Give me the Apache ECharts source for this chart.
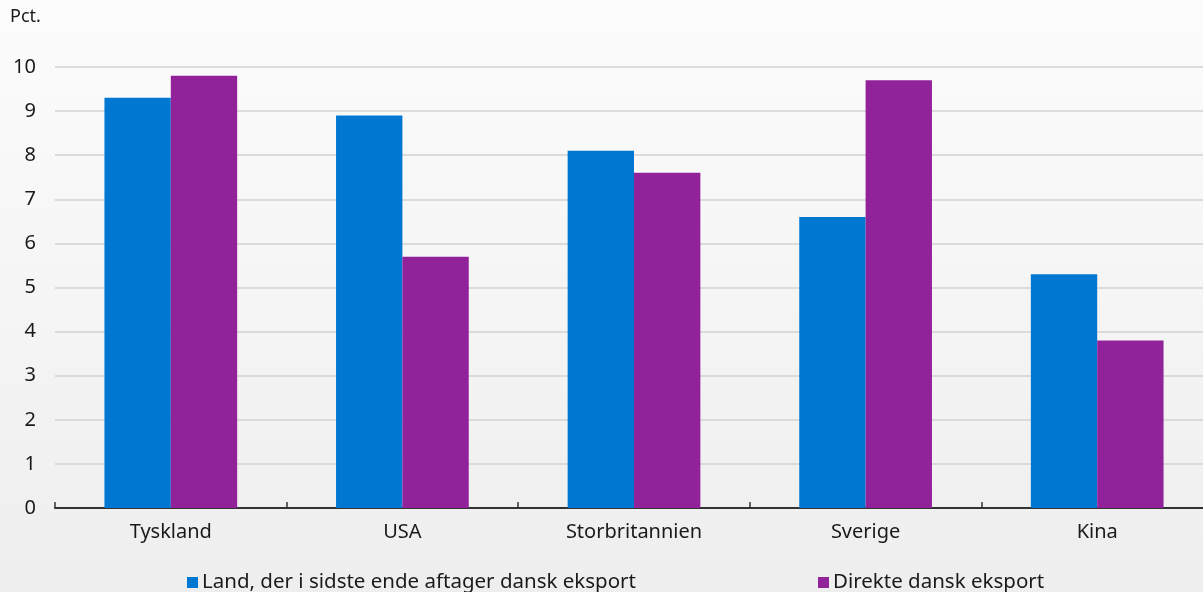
<!DOCTYPE html>
<html>
<head>
<meta charset="utf-8">
<script src="https://cdn.jsdelivr.net/npm/echarts@6/dist/echarts.min.js"></script>
<style>
html,body{margin:0;padding:0;overflow:hidden;width:1203px;height:592px;}
#chart{width:1213px;height:592px;}
</style>
</head>
<body>
<div id="chart"></div>
<script>
const categories = ['Tyskland', 'USA', 'Storbritannien', 'Sverige', 'Kina'];
const seriesNames = ['Land, der i sidste ende aftager dansk eksport', 'Direkte dansk eksport'];
const ultimateExport = [9.3, 8.9, 8.1, 6.6, 5.3];
const directExport = [9.8, 5.7, 7.6, 9.7, 3.8];
const yTicks = [0, 1, 2, 3, 4, 5, 6, 7, 8, 9, 10];

const font = '"Noto Sans", "Open Sans", sans-serif';
const chart = echarts.init(document.getElementById('chart'));
chart.setOption({
  backgroundColor: new echarts.graphic.LinearGradient(0, 0, 0, 1, [
    {offset: 0, color: '#fcfcfc'}, {offset: 1, color: '#eeeeee'}
  ]),
  textStyle: {fontFamily: font},
  graphic: [{
    type: 'text', left: 10, top: 8,
    style: {text: 'Pct.', font: '18px ' + font, fill: '#1a1a1a'}
  }],
  grid: {left: 55, right: 0, top: 67, bottom: 84, containLabel: false},
  legend: {
    top: 567, left: 182, itemGap: 182, itemWidth: 11, itemHeight: 11,
    icon: 'rect',
    textStyle: {fontSize: 20.5, color: '#1a1a1a', fontFamily: font, padding: [0, 0, 0, -1]},
    data: seriesNames
  },
  xAxis: {
    type: 'category', data: categories,
    axisLine: {lineStyle: {color: '#333333', width: 2}},
    axisTick: {show: true, inside: true, length: 6, lineStyle: {color: '#333333', width: 1.5}},
    axisLabel: {fontSize: 20, color: '#1a1a1a', margin: 14, fontFamily: font}
  },
  yAxis: {
    type: 'value', min: yTicks[0], max: yTicks[yTicks.length - 1], interval: 1,
    axisLine: {show: false}, axisTick: {show: false},
    axisLabel: {fontSize: 20, color: '#1a1a1a', margin: 19, fontFamily: font},
    splitLine: {lineStyle: {color: '#d2d2d2', width: 1.5}}
  },
  series: [
    {name: seriesNames[0], type: 'bar', data: ultimateExport, barGap: '0%', barCategoryGap: '42.7%',
     itemStyle: {color: '#0078d2'}},
    {name: seriesNames[1], type: 'bar', data: directExport, barGap: '0%', barCategoryGap: '42.7%',
     itemStyle: {color: '#91229a'}}
  ]
});
</script>
</body>
</html>
